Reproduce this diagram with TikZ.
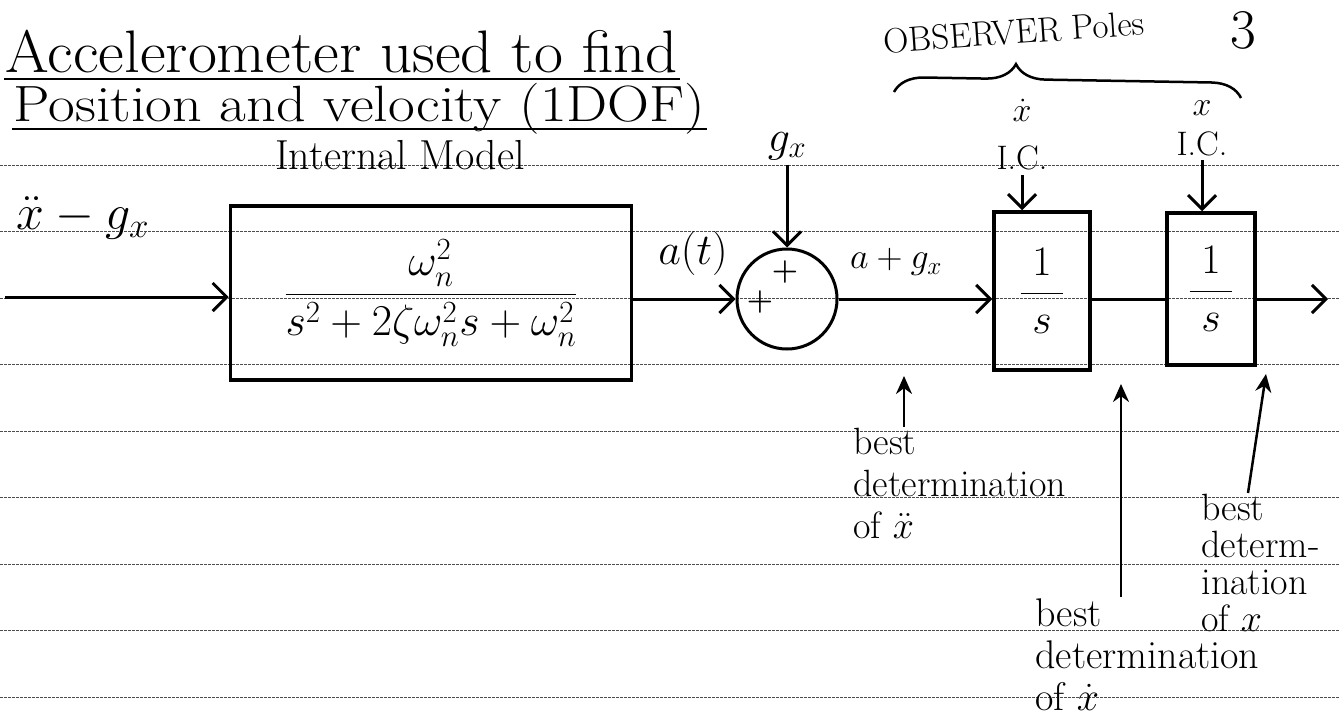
\RequirePackage{fix-cm}
\documentclass[tikz,border=0pt]{standalone}
\usepackage{amsmath}
\usepackage{fontspec}
\usetikzlibrary{arrows.meta, decorations.pathreplacing}

\newcommand{\fsz}[2]{\fontsize{#1}{#2}\selectfont}

\begin{document}
\begin{tikzpicture}[
    x = 1pt, y = -1pt,
    line width = 3pt,
    rule_line/.style = {line width=0.8pt, black!70, dash pattern=on 2.5pt off 1.5pt},
    tf_box/.style = {draw, rectangle, line width=3.5pt, inner sep=0pt},
    sum_node/.style = {draw, circle, line width=3pt, minimum size=100pt, inner sep=0pt},
    sig_arrow/.style = {-{Straight Barb[length=14pt, width=28pt]}, line width=3pt},
    note_arrow/.style = {-{Stealth[length=18pt, width=16pt]}, line width=2.5pt},
    note_text/.style = {align=left, inner sep=0pt, font=\fsz{38}{42}}
]
\useasboundingbox (0,0) rectangle (1340,720);

% --- Ruled paper ---
\foreach \ly in {165,231.5,...,697}
    \draw[rule_line] (0,\ly) -- (1340,\ly);

% --- Heading ---
\node[anchor=base west, inner sep=0pt, font=\fsz{60}{66}, xscale=1.05, transform shape] (title_a) at (4,72) {Accelerometer used to find};
\node[anchor=base west, inner sep=0pt, font=\fsz{51}{60}, xscale=1.14, transform shape] (title_b) at (12,121) {Position and velocity (1DOF)};
\draw[line width=2.5pt] ([yshift=-7pt]title_a.base west) -- ([yshift=-7pt]title_a.base east);
\draw[line width=2.5pt] ([yshift=-8pt]title_b.base west) -- ([yshift=-8pt]title_b.base east);
\node[font=\fsz{42}{44}] (model_lbl) at (400,155) {Internal Model};
\node[rotate=4, font=\fsz{35}{38}] (obs_lbl) at (1014,32) {OBSERVER Poles};
\node[font=\fsz{56}{56}] (page_no) at (1243,30) {3};

% Brace over the two integrators
\coordinate (brace_l) at (894,92);
\coordinate (brace_r) at (1241,98);
\draw[line width=2.5pt, decorate, decoration={brace, amplitude=30pt, aspect=0.35}] (brace_l) -- (brace_r);

% --- Blocks ---
\node[tf_box, minimum width=401pt, minimum height=174pt] (model) at (431,293)
    {\fsz{44}{50}$\displaystyle\frac{\omega_n^2}{s^2+2\zeta\omega_n^2 s+\omega_n^2}$};
\node[sum_node] (sum) at (787,299) {};
\node[font=\fsz{30}{30}\bfseries] (plus_top) at (785,272) {+};
\node[font=\fsz{30}{30}\bfseries] (plus_left) at (760,302) {+};
\node[tf_box, minimum width=96pt, minimum height=158pt] (int_vel) at (1042,291)
    {\fsz{42}{48}$\displaystyle\frac{\;1\;}{\;s\;}$};
\node[tf_box, minimum width=88pt, minimum height=152pt] (int_pos) at (1211,289)
    {\fsz{42}{48}$\displaystyle\frac{\;1\;}{\;s\;}$};

% --- Signal labels ---
\node[font=\fsz{50}{56}] (in_lbl) at (83,218) {$\ddot{x}-g_x$};
\node[font=\fsz{44}{50}] (at_lbl) at (693,253) {$a(t)$};
\node[font=\fsz{44}{50}] (gx_lbl) at (787,146) {$g_x$};
\node[font=\fsz{36}{40}] (apg_lbl) at (896,262) {$a+g_x$};
\node[align=center, font=\fsz{34}{48}] (ic_vel) at (1022,135) {$\dot{x}$\\I.C.};
\node[align=center, font=\fsz{34}{40}] (ic_pos) at (1202,128) {$x$\\I.C.};

% --- Connectors ---
\coordinate (u_in) at (5,297);
\coordinate (y_out) at (1328,299);
\draw[sig_arrow] (u_in) -- (u_in -| model.west);
\draw[sig_arrow] (model.east |- sum.west) -- (sum.west);
\draw[sig_arrow] (gx_lbl.south) -- (sum.north);
\draw[sig_arrow] (sum.east) -- (sum.east -| int_vel.west);
\draw (int_vel.east |- sum.east) -- (sum.east -| int_pos.west);
\draw[sig_arrow] (int_pos.east |- sum.east) -- (y_out);
\draw[sig_arrow] (ic_vel.south) -- (ic_vel.south |- int_vel.north);
\draw[sig_arrow] (ic_pos.south) -- (ic_pos.south |- int_pos.north);

% --- Notes below ---
\coordinate (acc_pt) at (904,376);
\coordinate (vel_pt) at (1121,384);
\coordinate (pos_pt) at (1266,374);
\node[note_text, anchor=north west] (acc_note) at (852,427) {best\\determination\\of $\ddot{x}$};
\node[note_text, anchor=north west, font=\fsz{40}{42}] (vel_note) at (1034,597) {best\\determination\\of $\dot{x}$};
\node[note_text, anchor=north west, font=\fsz{38}{37}] (pos_note) at (1200,493) {best\\determ-\\ination\\of $x$};
\draw[note_arrow] (acc_note.north west -| acc_pt) -- (acc_pt);
\draw[note_arrow] (vel_note.north west -| vel_pt) -- (vel_pt);
\draw[note_arrow] ([xshift=48pt]pos_note.north west) -- (pos_pt);

\end{tikzpicture}
\end{document}
